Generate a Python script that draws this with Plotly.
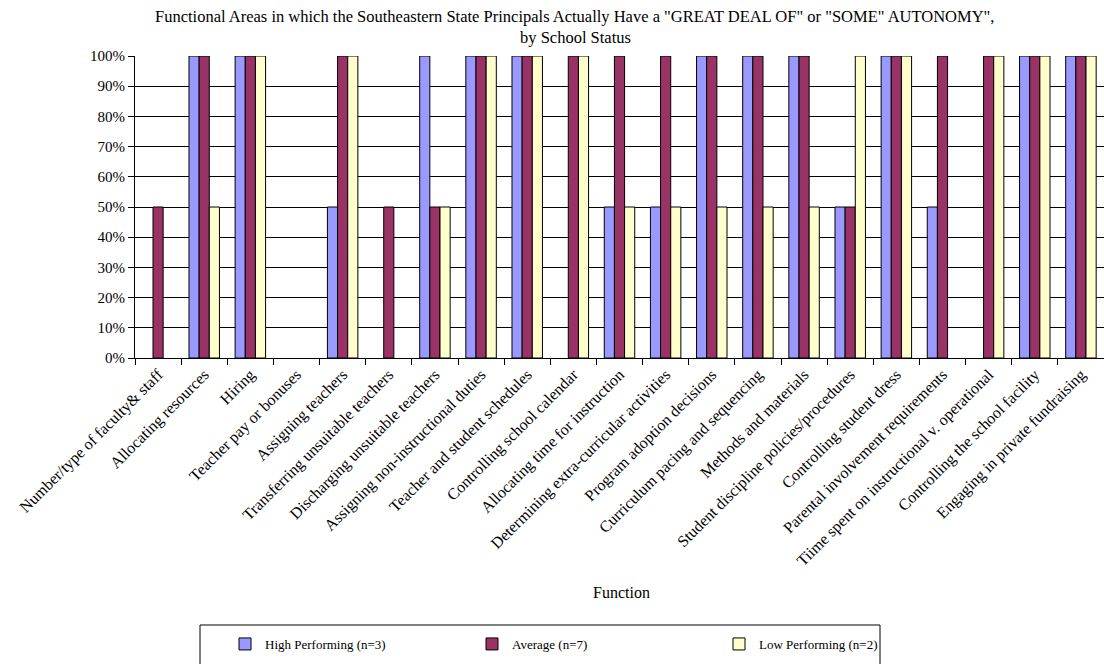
import plotly.graph_objects as go

categories = [
    "Number/type of faculty& staff",
    "Allocating resources",
    "Hiring",
    "Teacher pay or bonuses",
    "Assigning teachers",
    "Transferring unsuitable teachers",
    "Discharging unsuitable teachers",
    "Assigning non-instructional duties",
    "Teacher and student schedules",
    "Controlling school calendar",
    "Allocating time for instruction",
    "Determining extra-curricular activities",
    "Program adoption decisions",
    "Curriculum pacing and sequencing",
    "Methods and materials",
    "Student discipline policies/procedures",
    "Controlling student dress",
    "Parental involvement requirements",
    "Tiime spent on instructional v. operational",
    "Controlling the school facility",
    "Engaging in private fundraising",
]
high = [0, 100, 100, 0, 50, 0, 100, 100, 100, 0, 50, 50, 100, 100, 100, 50, 100, 50, 0, 100, 100]
average = [50, 100, 100, 0, 100, 50, 50, 100, 100, 100, 100, 100, 100, 100, 100, 50, 100, 100, 100, 100, 100]
low = [0, 50, 100, 0, 100, 0, 50, 100, 100, 100, 50, 50, 50, 50, 50, 100, 100, 0, 100, 100, 100]
series_names = ["High Performing (n=3)", "Average (n=7)", "Low Performing (n=2)"]
series_colors = ["#9999FF", "#993366", "#FFFFCC"]
y_ticks = list(range(0, 101, 10))
y_tick_labels = [f"{v}%" for v in y_ticks]
title_lines = [
    'Functional Areas in which the Southeastern State Principals Actually Have a "GREAT DEAL OF" or "SOME" AUTONOMY",',
    "by School Status",
]

FONT = "Liberation Serif"

fig = go.Figure()
for name, vals, col in zip(series_names, [high, average, low], series_colors):
    fig.add_trace(go.Bar(
        x=categories, y=[v if v > 0 else None for v in vals], name=name,
        marker=dict(color=col, line=dict(color="black", width=1)),
    ))

W, H = 1104, 664
L, R, T, B = 135, 0, 56, 306
ph = H - T - B
pw = W - L - R

def py(pix):
    return (H - B - pix) / ph

def px(pix):
    return (pix - L) / pw

fig.update_layout(
    width=W, height=H,
    margin=dict(l=L, r=R, t=T, b=B, autoexpand=False),
    paper_bgcolor="white", plot_bgcolor="white",
    font=dict(family=FONT, size=15, color="black"),
    barmode="group", bargap=0.34, bargroupgap=0,
    xaxis=dict(
        tickangle=-45, ticks="outside", ticklen=6, tickcolor="black",
        tickson="boundaries", showline=True, linecolor="black", linewidth=1,
        tickfont=dict(family=FONT, size=16),
        showgrid=False,
    ),
    yaxis=dict(
        range=[0, 100], tickvals=y_ticks, ticktext=y_tick_labels,
        ticks="outside", ticklen=6, tickcolor="black",
        showline=True, linecolor="black", linewidth=1,
        showgrid=True, gridcolor="black", gridwidth=1,
        tickfont=dict(family=FONT, size=15),
        zeroline=False,
    ),
    showlegend=True,
    legend=dict(
        orientation="h", x=px(225), xanchor="left", y=py(644), yanchor="middle",
        entrywidth=202, entrywidthmode="pixels",
        font=dict(family=FONT, size=13), bgcolor="rgba(0,0,0,0)",
    ),
)

fig.add_shape(type="rect", xref="paper", yref="paper",
              x0=px(200), x1=px(880), y0=py(625), y1=py(668),
              line=dict(color="black", width=1), fillcolor="white", layer="below")

fig.add_annotation(text=title_lines[0], xref="paper", yref="paper",
                   x=px(574), y=py(17), xanchor="center", yanchor="middle",
                   showarrow=False, font=dict(family=FONT, size=16.5))
fig.add_annotation(text=title_lines[1], xref="paper", yref="paper",
                   x=px(575), y=py(38), xanchor="center", yanchor="middle",
                   showarrow=False, font=dict(family=FONT, size=16.5))

fig.add_annotation(text="Function", xref="paper", yref="paper",
                   x=px(621), y=py(592), xanchor="center", yanchor="middle",
                   showarrow=False, font=dict(family=FONT, size=16))

fig.write_html("out.html")
